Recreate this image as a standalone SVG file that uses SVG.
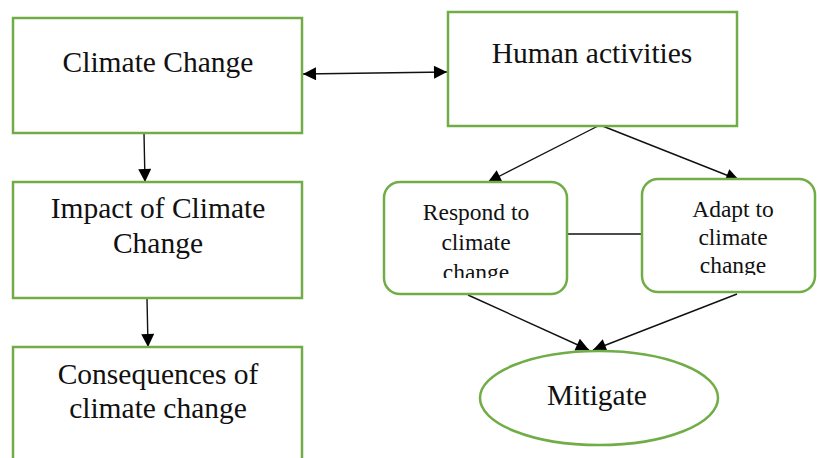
<svg xmlns="http://www.w3.org/2000/svg" width="817" height="458" viewBox="0 0 817 458">
<style>
.box{fill:#fff;stroke:#70AD47;stroke-width:2.5}
.big{font-family:"Liberation Serif","Times New Roman",serif;font-size:29.5px;fill:#111;text-anchor:middle}
.small{font-family:"Liberation Serif","Times New Roman",serif;font-size:23.5px;fill:#111;text-anchor:middle}
.con{stroke:#111;stroke-width:1.4;fill:none}
</style>
<defs>
<marker id="ah" viewBox="0 0 10 10" refX="10" refY="5" markerWidth="15" markerHeight="13" markerUnits="userSpaceOnUse" orient="auto-start-reverse">
<path d="M0,0 L10,5 L0,10 z" fill="#000"/>
</marker>
<clipPath id="clipR"><rect x="384" y="182" width="184" height="96"/></clipPath>
<clipPath id="clipA"><rect x="642" y="179" width="175" height="96"/></clipPath>
</defs>
<rect width="817" height="458" fill="#fff"/>
<g id="connectors">
<line class="con" x1="303" y1="74" x2="447" y2="72" marker-start="url(#ah)" marker-end="url(#ah)"/>
<line class="con" x1="144" y1="133" x2="145" y2="182" marker-end="url(#ah)"/>
<line class="con" x1="147" y1="298" x2="148" y2="347" marker-end="url(#ah)"/>
<line class="con" x1="600" y1="125" x2="488" y2="182" marker-end="url(#ah)"/>
<line class="con" x1="600" y1="125" x2="739" y2="180" marker-end="url(#ah)"/>
<line class="con" x1="567" y1="234" x2="642" y2="234"/>
<line class="con" x1="468" y1="295" x2="589" y2="350" marker-end="url(#ah)"/>
<line class="con" x1="737" y1="294" x2="593" y2="350" marker-end="url(#ah)"/>
</g>
<g id="climate-change">
<rect class="box" x="13" y="18" width="289" height="115"/>
<text class="big" x="158" y="72">Climate Change</text>
</g>
<g id="human-activities">
<rect class="box" x="448" y="12" width="289" height="114"/>
<text class="big" x="592" y="63">Human activities</text>
</g>
<g id="impact">
<rect class="box" x="13" y="182" width="289" height="116"/>
<text class="big" x="158" y="218">Impact of Climate</text>
<text class="big" x="158" y="253">Change</text>
</g>
<g id="consequences">
<rect class="box" x="13" y="347" width="289" height="125"/>
<text class="big" x="158" y="384">Consequences of</text>
<text class="big" x="158" y="418">climate change</text>
</g>
<g id="respond">
<rect class="box" x="384" y="182" width="183" height="112" rx="16"/>
<g clip-path="url(#clipR)">
<text class="small" x="476" y="220">Respond to</text>
<text class="small" x="476" y="250">climate</text>
<text class="small" x="476" y="280">change</text>
</g>
</g>
<g id="adapt">
<rect class="box" x="642" y="179" width="173" height="113" rx="16"/>
<g clip-path="url(#clipA)">
<text class="small" x="733" y="217">Adapt to</text>
<text class="small" x="733" y="245">climate</text>
<text class="small" x="733" y="273">change</text>
</g>
</g>
<g id="mitigate">
<ellipse class="box" cx="599" cy="398" rx="119" ry="47"/>
<text class="big" x="597" y="405">Mitigate</text>
</g>
</svg>
